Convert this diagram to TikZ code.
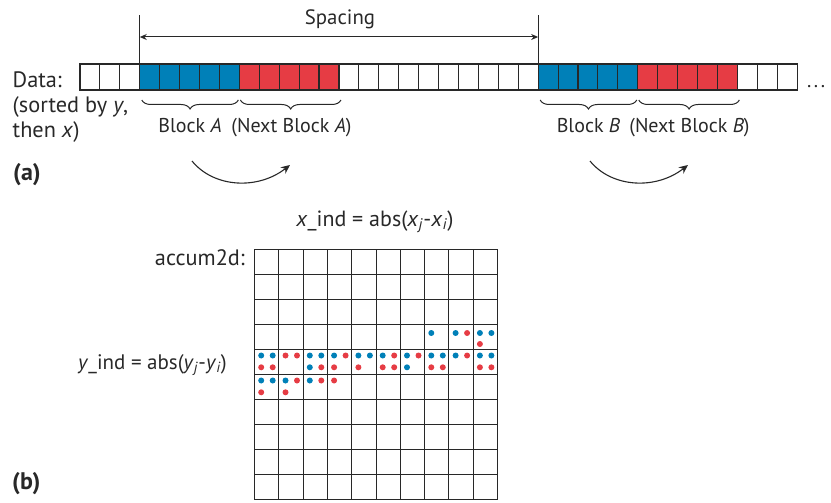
\documentclass[tikz,border=0pt]{standalone}
\usepackage{fontspec}
\setmainfont{PT Sans}
\usetikzlibrary{arrows.meta,decorations.pathreplacing}
\definecolor{dblue}{RGB}{0,128,184}
\definecolor{dred}{RGB}{230,60,68}
\definecolor{lgray}{RGB}{40,40,40}
\begin{document}
\begin{tikzpicture}[x=1pt,y=-1pt,
  lbl/.style={font=\fontsize{20}{24}\selectfont, inner sep=0pt, text=lgray},
  big lbl/.style={font=\fontsize{22.3}{24}\selectfont, inner sep=0pt, text=lgray},
  bold lbl/.style={font=\fontsize{24}{24}\selectfont\bfseries, inner sep=0pt, text=lgray},
  cell/.style={draw=lgray, line width=1.1pt, minimum width=19.92pt, minimum height=26pt, inner sep=0pt, outer sep=0pt, anchor=north west},
  gridline/.style={draw=lgray, line width=1pt},
  bracestyle/.style={draw=lgray, line width=1pt, decorate, decoration={brace, mirror, amplitude=9pt}},
  curvearrow/.style={draw=lgray, line width=1.1pt, -{Stealth[length=9pt,width=8pt]}},
  spacearrow/.style={draw=lgray, line width=1pt, {Stealth[length=7pt,width=6pt]}-{Stealth[length=7pt,width=6pt]}},
  bar/.style={draw=lgray, line width=0.9pt}
]
\useasboundingbox (0,0) rectangle (831,503);

% ---------- (a) data row ----------
\foreach \i in {0,1,2,13,14,15,16,17,18,19,20,21,22,33,34,35}
  \node[cell] (c\i) at (80+\i*19.92,64) {};
\foreach \i in {3,4,5,6,7,23,24,25,26,27}
  \node[cell,fill=dblue] (c\i) at (80+\i*19.92,64) {};
\foreach \i in {8,9,10,11,12,28,29,30,31,32}
  \node[cell,fill=dred] (c\i) at (80+\i*19.92,64) {};

% spacing
\coordinate (toplev) at (0,15);
\coordinate (arrlev) at (0,37);
\draw[bar] (c3.north west) -- (c3.north west |- toplev);
\draw[bar] (c23.north west) -- (c23.north west |- toplev);
\draw[spacearrow] (c3.north west |- arrlev) -- (c23.north west |- arrlev);
\node[lbl, font=\fontsize{20.8}{24}\selectfont, anchor=base] (spacing) at (340,25) {Spacing};

% labels left
\node[big lbl, anchor=base west] (data) at (12.5,88) {Data:};
\node[big lbl, anchor=base west] (sorted) at (12.5,112.5) {(sorted by \textit{y},};
\node[big lbl, anchor=base west] (thenx) at (12.5,137) {then \textit{x})};
\node[lbl, anchor=base west] (dots) at (807,88) {.\hspace{2.5pt}.\hspace{2.5pt}.};

% braces
\draw[bracestyle] ([xshift=2pt,yshift=-10pt]c3.south west) -- ([xshift=-1pt,yshift=-10pt]c7.south east);
\draw[bracestyle] ([xshift=1pt,yshift=-10pt]c8.south west) -- ([xshift=2pt,yshift=-10pt]c12.south east);
\draw[bracestyle] ([xshift=2pt,yshift=-10pt]c23.south west) -- ([xshift=-1pt,yshift=-10pt]c27.south east);
\draw[bracestyle] ([xshift=1pt,yshift=-10pt]c28.south west) -- ([xshift=2pt,yshift=-10pt]c32.south east);
\node[lbl, anchor=base] (blA) at (190,132) {Block \textit{A}};
\node[lbl, anchor=base] (nblA) at (291.5,132) {(Next Block \textit{A})};
\node[lbl, anchor=base] (blB) at (588.5,132) {Block \textit{B}};
\node[lbl, anchor=base] (nblB) at (689.5,132) {(Next Block \textit{B})};

% curved arrows
\coordinate (aA1) at (192,161);
\coordinate (aA2) at (290,165);
\coordinate (aB1) at (590,161);
\coordinate (aB2) at (688,165);
\draw[curvearrow] (aA1) .. controls (214,188) and (258,190) .. (aA2);
\draw[curvearrow] (aB1) .. controls (612,188) and (656,190) .. (aB2);

\node[bold lbl, anchor=base west] (la) at (13,180) {(a)};

% ---------- (b) accumulator grid ----------
\node[lbl, font=\fontsize{22}{24}\selectfont, anchor=base] (xind) at (375,226) {\textit{x}\_ind = abs(\textit{x}\textsubscript{\textit{j}}-\textit{x}\textsubscript{\textit{i}})};
\node[big lbl, anchor=base east] (acc) at (245,265) {accum2d:};
\node[lbl, font=\fontsize{21}{24}\selectfont, anchor=base west] (yind) at (78,369) {\textit{y}\_ind = abs(\textit{y}\textsubscript{\textit{j}}-\textit{y}\textsubscript{\textit{i}})};
\node[bold lbl, anchor=base west] (lb) at (12,489) {(b)};

\node[gridline, minimum width=243pt, minimum height=250pt, inner sep=0pt, outer sep=0pt, anchor=north west] (G) at (254.5,249) {};
\foreach \k in {1,...,9} {
  \draw[gridline] (254.5+\k*24.3,249) -- (254.5+\k*24.3,499);
  \draw[gridline] (254.5,249+\k*25) -- (497.5,249+\k*25);
}

% dots: row/col/px/py/colour ; px,py in {0,1}
\foreach \r/\c/\px/\py/\col in {
  3/7/0/0/dblue, 3/8/0/0/dblue, 3/8/1/0/dred, 3/9/0/0/dblue, 3/9/1/0/dblue, 3/9/0/1/dred}
  \fill[\col] (254.5+\c*24.3+6.7+\px*11.5, 249+\r*25+9+\py*11) circle (3);
\foreach \r/\c/\px/\py/\col in {
  4/0/0/0/dblue, 4/0/1/0/dblue, 4/0/0/1/dred, 4/0/1/1/dred,
  4/1/0/0/dred, 4/1/1/0/dred,
  4/2/0/0/dblue, 4/2/1/0/dblue, 4/2/0/1/dblue, 4/2/1/1/dred,
  4/3/0/0/dblue, 4/3/1/0/dred, 4/3/0/1/dred,
  4/4/0/0/dblue, 4/4/1/0/dblue, 4/4/0/1/dred,
  4/5/0/0/dblue, 4/5/1/0/dred, 4/5/0/1/dred, 4/5/1/1/dred,
  4/6/0/0/dblue, 4/6/1/0/dred, 4/6/0/1/dblue,
  4/7/0/0/dblue, 4/7/1/0/dblue, 4/7/0/1/dred, 4/7/1/1/dred,
  4/8/0/0/dblue, 4/8/1/0/dred,
  4/9/0/0/dblue, 4/9/1/0/dblue, 4/9/0/1/dred, 4/9/1/1/dred,
  5/0/0/0/dblue, 5/0/1/0/dblue, 5/0/0/1/dred,
  5/1/0/0/dblue, 5/1/1/0/dred, 5/1/0/1/dred,
  5/2/0/0/dblue, 5/2/1/0/dred,
  5/3/0/0/dred}
  \fill[\col] (254.5+\c*24.3+6.7+\px*11.5, 249+\r*25+6.5+\py*11.8) circle (3);
\end{tikzpicture}
\end{document}
